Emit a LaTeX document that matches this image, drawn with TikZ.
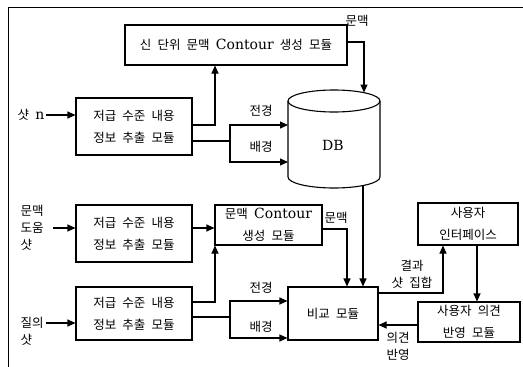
\documentclass[tikz,border=0pt]{standalone}
\usepackage{fontspec}
\setmainfont{DejaVu Serif}[Scale=1.12]
\newfontfamily\kr{Noto Sans CJK KR}[WordSpace=2.2]
\usetikzlibrary{arrows.meta}
\newcommand{\fsz}{\fontsize{12.5}{22}\selectfont}
\newcommand{\fsl}{\fontsize{12.5}{17}\selectfont}
\begin{document}
\begin{tikzpicture}[x=1pt,y=-1pt,
  box/.style={draw, line width=1.1pt, inner sep=0pt, align=center, font=\fsz\kr},
  lab/.style={inner sep=0pt, align=center, font=\fsl\kr},
  arr/.style={line width=1.1pt, -{Triangle[length=8pt,width=7pt]}},
  ln/.style={line width=1.1pt}]
\useasboundingbox (0,0) rectangle (523,367);
% frame
\draw[line width=1pt] (8,367) -- (8,7) -- (523,7);
% boxes
\node[box, minimum width=222pt, minimum height=40pt] (ctx1) at (236,45) {신 단위 문맥 {\rmfamily Contour} 생성 모듈};
\node[box, minimum width=116pt, minimum height=57pt] (mA) at (134,126.5) {저급 수준 내용\\정보 추출 모듈};
\node[box, minimum width=116pt, minimum height=57pt] (mB) at (134,233.5) {저급 수준 내용\\정보 추출 모듈};
\node[box, minimum width=116pt, minimum height=53pt] (mC) at (134,313.5) {저급 수준 내용\\정보 추출 모듈};
\node[box, minimum width=107pt, minimum height=40pt] (ctx2) at (268.5,225) {문맥 {\rmfamily Contour}\\생성 모듈};
\node[box, minimum width=90pt, minimum height=53pt] (cmp) at (333,313.5) {비교 모듈};
\node[box, minimum width=100pt, minimum height=42pt] (ui) at (468,224) {사용자\\인터페이스};
\node[box, minimum width=102pt, minimum height=40pt] (fb) at (469,322) {사용자 의견\\반영 모듈};
% DB cylinder
\draw[ln] (288,101) -- (288,177) arc[start angle=180, end angle=0, x radius=46, y radius=11] -- (380,101);
\draw[ln] (334,101) ellipse[x radius=46, y radius=11];
\node[lab, font=\fsz\rmfamily] (db) at (333,145) {DB};
\coordinate (dbtop) at (364,92.5);
\coordinate (dbbot) at (363,185.5);
\coordinate (dbfg) at (288,125);
\coordinate (dbbg) at (288,162);
% input labels
\node[lab] (inA) at (31,115) {샷 {\rmfamily n}};
\node[lab, align=left] (inB) at (32,227.5) {문맥\\도움\\샷};
\node[lab, align=left] (inC) at (32,331.5) {질의\\샷};
% other labels
\node[lab] (l1) at (357,21) {문맥};
\node[lab] (l2) at (261,111) {전경};
\node[lab] (l3) at (261,147) {배경};
\node[lab] (l4) at (336,218) {문맥};
\node[lab] (l5) at (261,288) {전경};
\node[lab] (l6) at (261,327) {배경};
\node[lab] (l7) at (412,274.5) {결과\\샷 집합};
\node[lab] (l8) at (398,346.5) {의견\\반영};
% connectors
\draw[arr] (inA.east) ++(1,0) -- (mA.west |- 0,115);
\draw[arr] (53,228) -- (mB.west |- 0,228);
\draw[arr] (46,323) -- (mC.west |- 0,323);
\draw[arr] (mA.east |- 0,125) -| (215,0 |- ctx1.south);
\coordinate (sA) at (230,141);
\draw[ln] (mA.east |- sA) -- (sA);
\draw[arr] (sA) |- (dbfg);
\draw[arr] (sA) |- (dbbg);
\draw[arr] (ctx1.east |- 0,42) -| (dbtop);
\draw[arr] (dbbot) -- (363,0 |- cmp.north);
\draw[arr] (mB.east |- 0,228) -- (ctx2.west |- 0,228);
\draw[arr] (ctx2.east |- 0,229) -| (347,0 |- cmp.north);
\draw[arr] (mC.east |- 0,302) -| (215,0 |- ctx2.south);
\coordinate (sC) at (230,317);
\draw[ln] (mC.east |- sC) -- (sC);
\draw[arr] (sC) |- (cmp.west |- 0,301);
\draw[arr] (sC) |- (cmp.west |- 0,338);
\draw[arr] (cmp.east |- 0,293) -| (443,0 |- ui.south);
\draw[arr] (477,0 |- ui.south) -- (477,0 |- fb.north);
\draw[arr] (fb.west |- 0,325) -- (cmp.east |- 0,325);
\end{tikzpicture}
\end{document}
